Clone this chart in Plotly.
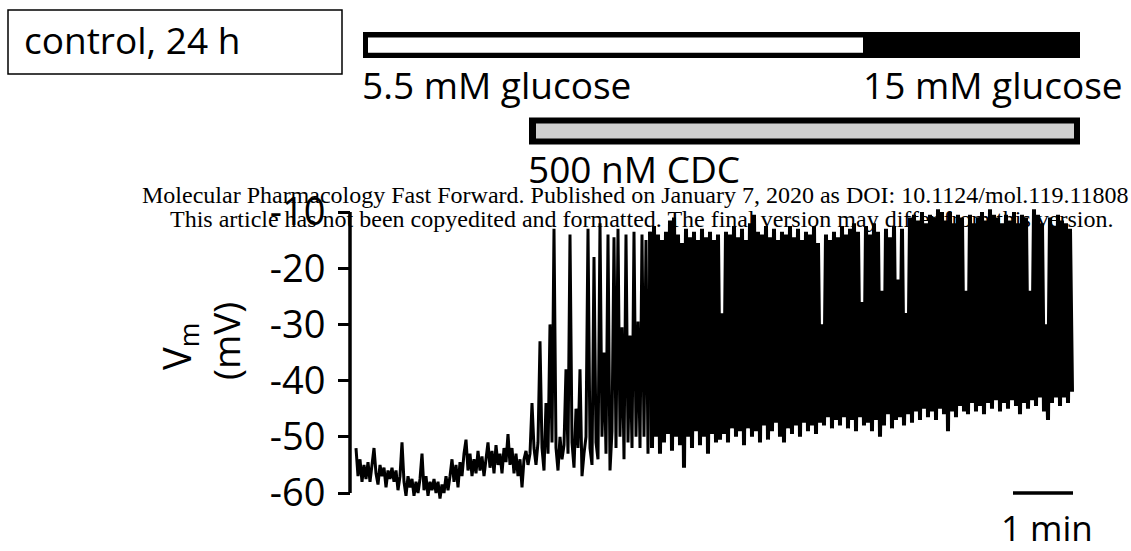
import plotly.graph_objects as go

W, H = 1131, 551

# ---------------- data ----------------
sample_interval_min = 1 / 30.0  # minutes between samples

vm_rest = [-52, -57, -54, -58, -55, -57.5, -54.5, -58, -55, -52,
           -56.5, -58.5, -55, -57, -55.5, -59, -56, -57.5, -55.5, -58,
           -56, -59.5, -57, -51, -58, -60.5, -57, -59, -57.5, -60.5,
           -58, -60, -57.5, -53, -59.5, -57, -60.5, -58, -59.5, -57.5,
           -60, -58, -61, -58.5, -60, -57, -59.5, -57]

vm_cdc_early = [-54, -58, -55, -59, -54.5, -57, -53, -50.5, -56, -53,
                -57, -54, -56.5, -52.5, -56, -53.5, -57, -54, -51, -55.5,
                -52.5, -56.5, -51.5, -55, -53, -56.5, -52, -54.5, -49.5, -55,
                -52, -56.5, -53, -57, -54, -59, -54, -52.5, -55]

vm_onset = [-53, -44, -52, -55, -51, -33, -52, -56, -44, -53,
            -30, -51, -13, -52, -56, -50, -54, -51.5, -38, -53,
            -14, -51, -55.5, -45, -52, -38, -57, -53, -50, -13,
            -52, -55, -18, -51, -54, -12, -50, -35, -53, -14,
            -56, -49, -14.5, -52, -13, -50, -30.5, -54, -14, -51,
            -32, -52, -13.5, -50, -29.5, -52, -14, -50, -15, -53,
            -13.5]

vm_burst = [-52, -12.5, -50, -14, -53, -15, -51, -13.5, -49.5, -11.5,
            -52.5, -11, -50, -14, -51.5, -15.5, -55.5, -13, -50, -14.5,
            -52, -13.5, -49, -15, -51.5, -13, -50, -14.5, -53, -13.5,
            -49.5, -15, -51, -14, -50.5, -28, -49.5, -13.5, -51, -14,
            -48.5, -12.5, -50, -14.5, -49, -13, -51.5, -15, -48.5, -12,
            -50, -10.5, -49, -13.5, -51, -14, -48, -12.5, -50.5, -14.5,
            -49, -13, -47.5, -15, -50, -13.5, -51, -14, -48.5, -12.5,
            -49.5, -14.5, -48, -13, -50, -15, -47.5, -13.5, -49, -14,
            -48, -12.5, -49.5, -15.5, -47.5, -30, -48, -14, -46.5, -15,
            -48.5, -13.5, -47, -14.5, -48, -12.5, -46.5, -14, -48.5, -13,
            -47, -12, -49, -13.5, -46.5, -26, -48, -12.5, -47.5, -14,
            -49, -12, -47, -13.5, -50, -24, -48, -13, -46, -14.5,
            -48.5, -12.5, -47, -22, -46.5, -13, -48, -28, -46, -11,
            -47.5, -10.5, -45.5, -11.5, -47, -10, -45, -12, -46.5, -10.5,
            -45.5, -11, -47, -9.5, -45, -10, -46, -11.5, -49, -10,
            -45.5, -12, -46.5, -10.5, -44.5, -11, -45.5, -24, -46, -10.5,
            -44, -12, -45.5, -11, -44.5, -10, -46, -11.5, -44, -9.5,
            -45, -10.5, -43.5, -11, -45.5, -12, -44, -10.5, -45, -11.5,
            -43.5, -10, -44.5, -12, -46, -10.5, -44, -11, -45, -24,
            -43.5, -9.5, -44.5, -10.5, -43, -12, -45.5, -30, -47, -11,
            -44, -12.5, -43, -10.5, -44.5, -11.5, -43, -12, -44, -13,
            -42]

vm_pre = vm_rest + vm_cdc_early + vm_onset
t_pre = [i * sample_interval_min for i in range(len(vm_pre))]
# burst segment continues from the last pre-burst sample
vm_post = vm_pre[-1:] + vm_burst
t_post = [(len(vm_pre) - 1 + i) * sample_interval_min for i in range(len(vm_post))]

y_ticks = [-60, -50, -40, -30, -20, -10]
y_tick_labels = ["-60", "-50", "-40", "-30", "-20", "-10"]

# ---------------- layout helpers (pixel -> paper) ----------------
def px(x):
    return x / W

def py(y):
    return 1 - y / H

X0_PX, PX_PER_MIN = 356, 60.0
Y60_PX, PX_PER_MV = 493, 5.62
x_range = [(0 - X0_PX) / PX_PER_MIN, (W - X0_PX) / PX_PER_MIN]
y_range = [-60 - (H - Y60_PX) / PX_PER_MV, -60 + Y60_PX / PX_PER_MV]

FONT = "Open Sans"
fig = go.Figure()
fig.add_trace(go.Scatter(x=t_pre, y=vm_pre, mode="lines",
                         line=dict(color="black", width=3, simplify=False),
                         hoverinfo="skip", showlegend=False))
fig.add_trace(go.Scatter(x=t_post, y=vm_post, mode="lines",
                         line=dict(color="black", width=4, simplify=False),
                         hoverinfo="skip", showlegend=False))

shapes = []
# y-axis spine
spine_x = (350 - X0_PX) / PX_PER_MIN
shapes.append(dict(type="line", xref="x", yref="y", x0=spine_x, x1=spine_x,
                   y0=-60, y1=-10, line=dict(color="black", width=3.5)))
# scale bar 1 min
bar_start = (1013 - X0_PX) / PX_PER_MIN
shapes.append(dict(type="line", xref="x", yref="y", x0=bar_start, x1=bar_start + 1,
                   y0=-60, y1=-60, line=dict(color="black", width=3.5)))
# control box
shapes.append(dict(type="rect", xref="paper", yref="paper",
                   x0=px(8), x1=px(342), y0=py(10), y1=py(74),
                   line=dict(color="black", width=1.5), fillcolor="rgba(0,0,0,0)"))
# glucose bar
shapes.append(dict(type="rect", xref="paper", yref="paper",
                   x0=px(363), x1=px(1080), y0=py(32), y1=py(58),
                   line=dict(width=0), fillcolor="black"))
shapes.append(dict(type="rect", xref="paper", yref="paper",
                   x0=px(368), x1=px(863), y0=py(37.5), y1=py(52.7),
                   line=dict(width=0), fillcolor="white"))
# CDC bar
shapes.append(dict(type="rect", xref="paper", yref="paper",
                   x0=px(529), x1=px(1080), y0=py(117.5), y1=py(144.5),
                   line=dict(width=0), fillcolor="black"))
shapes.append(dict(type="rect", xref="paper", yref="paper",
                   x0=px(536), x1=px(1074), y0=py(123.5), y1=py(138.5),
                   line=dict(width=0), fillcolor="#d0d0d0"))

ann = []
def txt(text, x, y, size, xanchor="left", family=FONT, angle=0):
    ann.append(dict(text=text, x=px(x), y=py(y), xref="paper", yref="paper",
                    xanchor=xanchor, yanchor="middle", showarrow=False,
                    textangle=angle,
                    font=dict(family=family, size=size, color="black")))

txt("control, 24 h", 22, 39, 37)
txt("5.5 mM glucose", 360, 84, 37)
txt("15 mM glucose", 1125, 84, 37, xanchor="right")
txt("500 nM CDC", 526, 168, 37)
txt("1 min", 1047, 527, 35, xanchor="center")
txt("V<sub>m</sub>", 178, 347, 38, xanchor="center", angle=-90)
txt("(mV)", 225, 341, 37, xanchor="center", angle=-90)
wm = "Liberation Serif"
txt("Molecular Pharmacology Fast Forward. Published on January 7, 2020 as DOI: 10.1124/mol.119.11808",
    1131, 195, 24, xanchor="right", family=wm)
txt("This article has not been copyedited and formatted. The final version may differ from this version.",
    642, 219, 24, xanchor="center", family=wm)

fig.update_layout(
    width=W, height=H, autosize=False,
    margin=dict(l=0, r=0, t=0, b=0, pad=0),
    paper_bgcolor="white", plot_bgcolor="white",
    showlegend=False,
    xaxis=dict(range=x_range, visible=False, domain=[0, 1], fixedrange=True),
    yaxis=dict(range=y_range, domain=[0, 1], anchor="free", position=px(350),
               tickmode="array", tickvals=y_ticks, ticktext=y_tick_labels,
               ticks="outside", ticklen=12, tickwidth=3, tickcolor="black",
               showgrid=False, zeroline=False, showline=False,
               ticklabelstandoff=5,
               tickfont=dict(family=FONT, size=38, color="black"),
               fixedrange=True),
    shapes=shapes,
    annotations=ann,
)

fig.write_html("out.html", config={"displayModeBar": False})
